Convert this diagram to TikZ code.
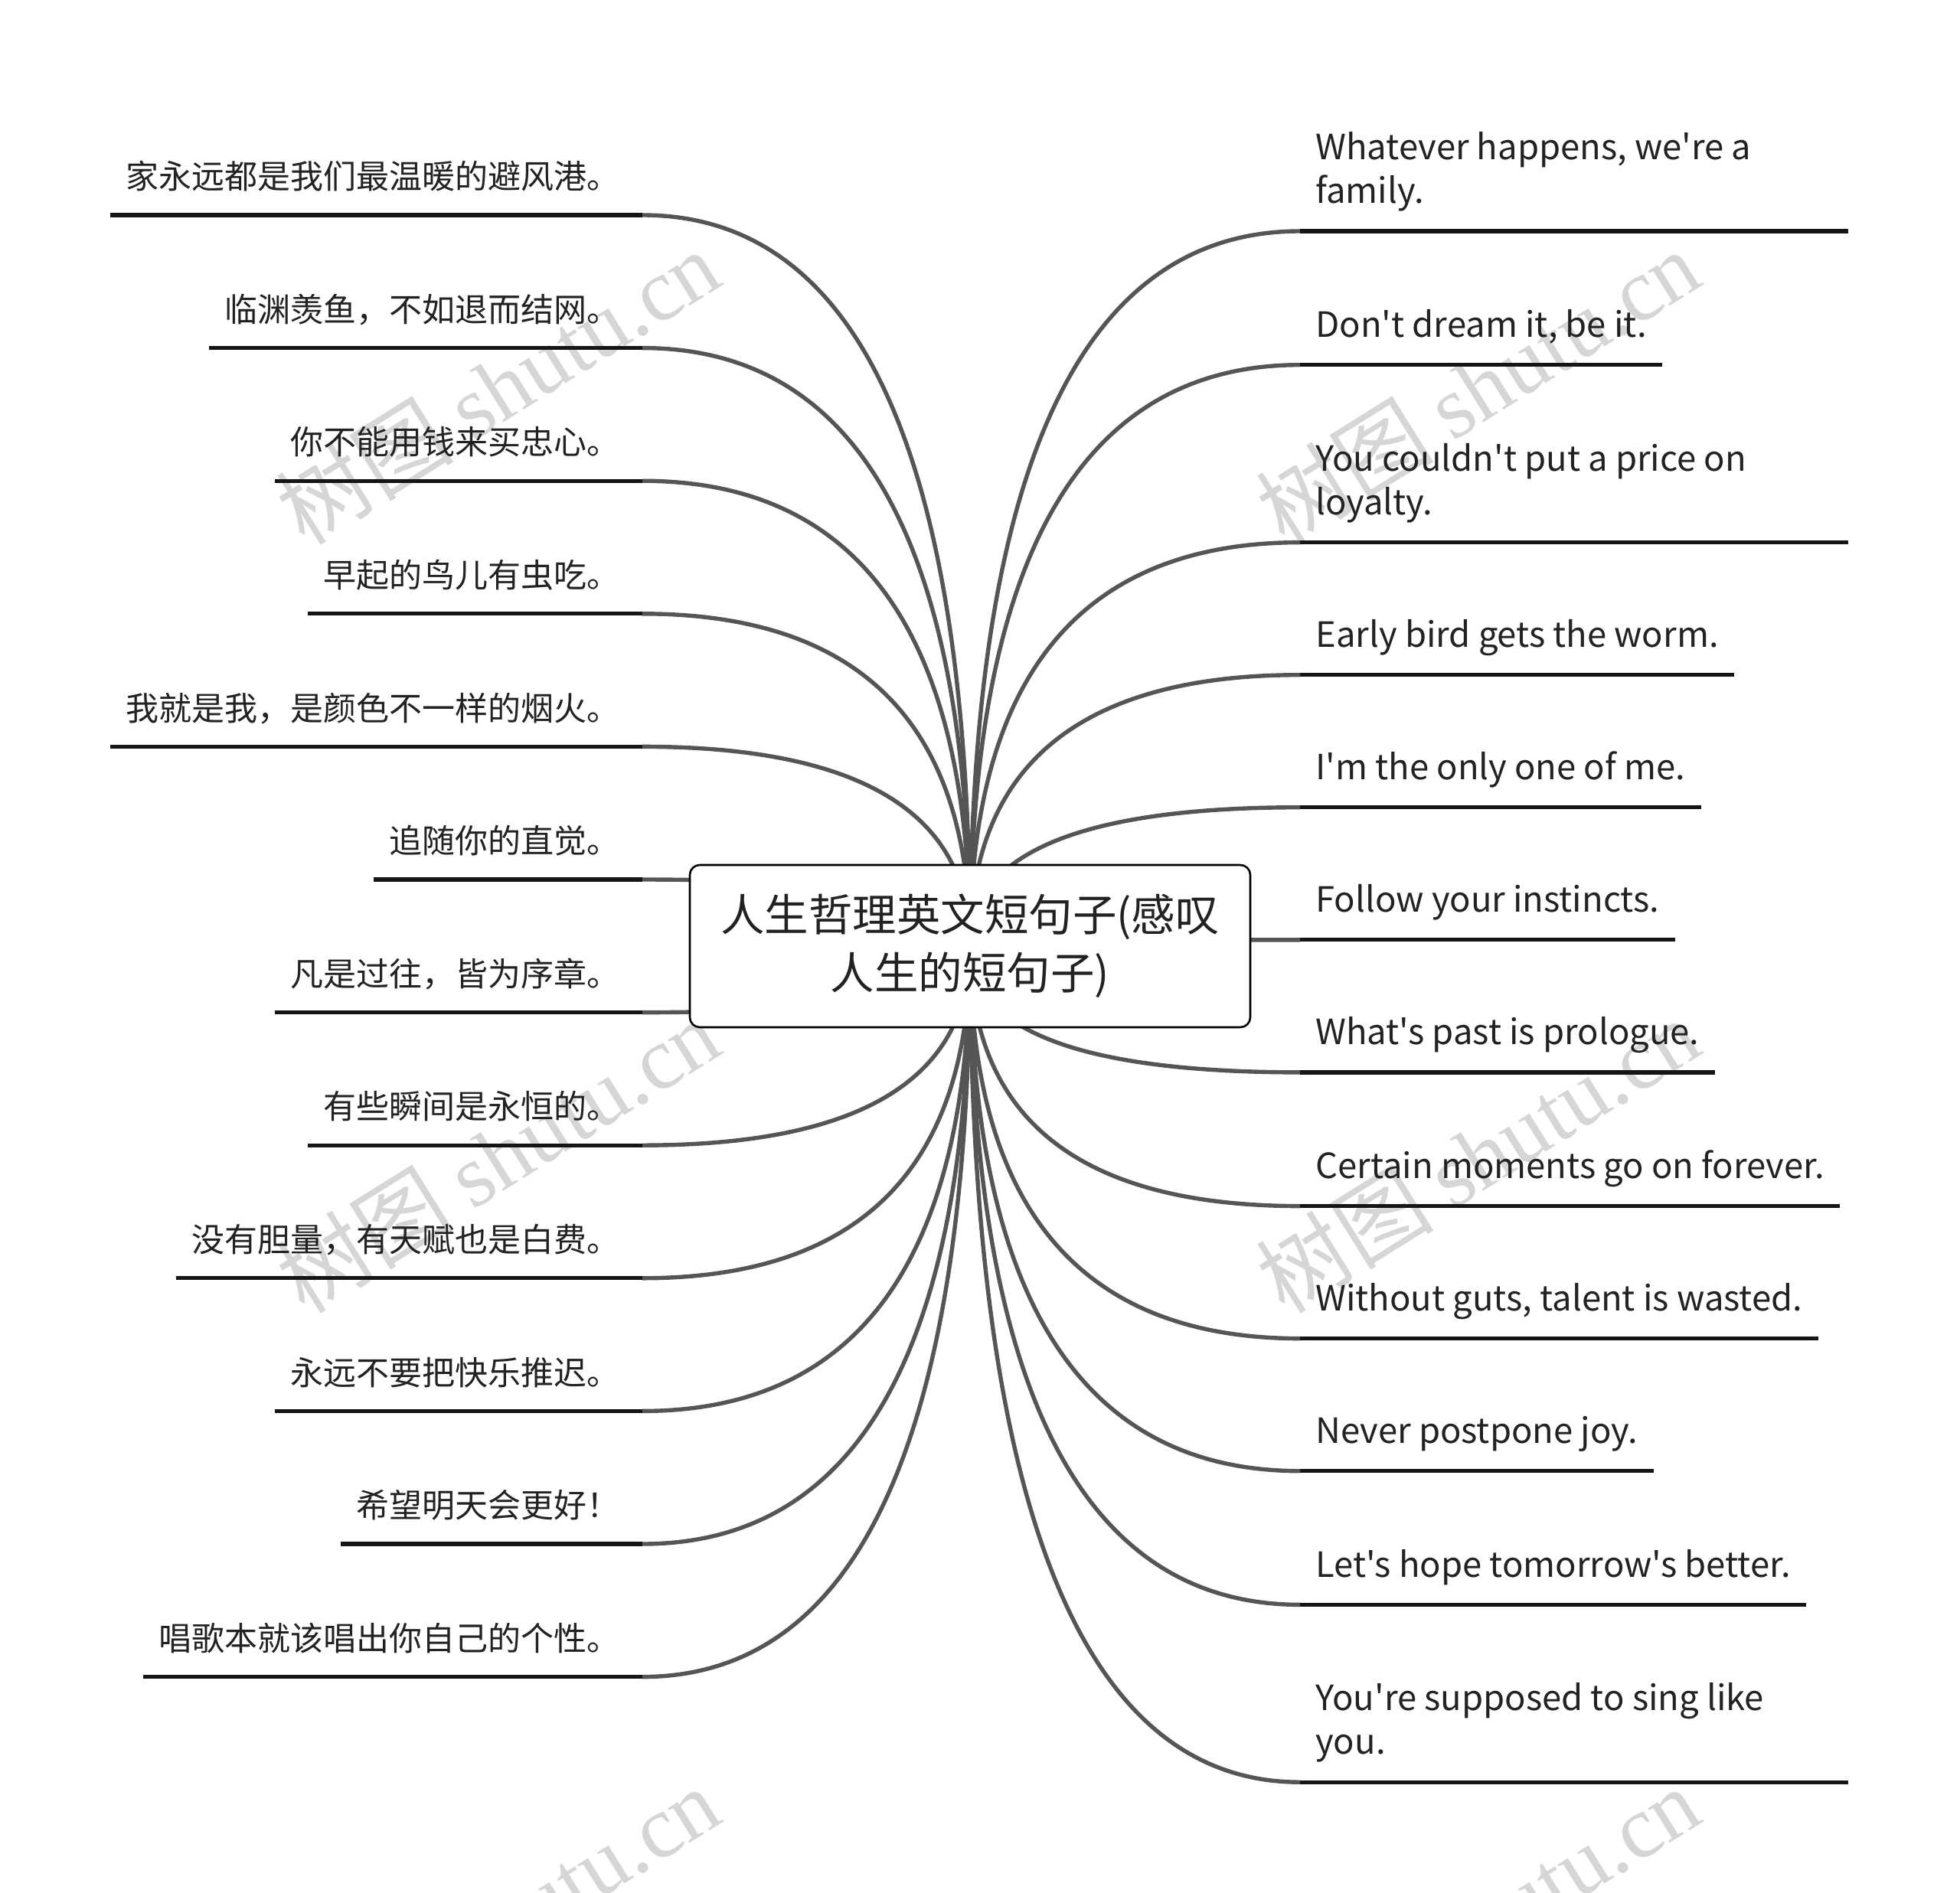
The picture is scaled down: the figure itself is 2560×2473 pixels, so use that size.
\documentclass[tikz,border=0pt]{standalone}
\usepackage{fontspec}
\setmainfont{Noto Sans CJK SC}[Ligatures=TeXOff]
\newfontfamily\wmfont{Liberation Serif}
\usetikzlibrary{calc,backgrounds}
\definecolor{curvegray}{HTML}{555555}
\definecolor{lineblack}{HTML}{151515}
\definecolor{textcol}{HTML}{222222}
\definecolor{wmgray}{HTML}{D6D6D6}
\tikzset{
  curve/.style={draw=curvegray, line width=2.7pt},
  uline/.style={draw=lineblack, line width=2.6pt},
  lnode/.style={anchor=south east, inner xsep=10pt, inner ysep=0pt, text depth=17pt,
    font=\fontsize{21.5pt}{26pt}\selectfont, text=textcol},
  rnode/.style={anchor=south west, inner xsep=10pt, inner ysep=0pt, text depth=18pt,
    font=\fontsize{22.7pt}{28.5pt}\selectfont, text=textcol},
  rootbox/.style={draw=black, line width=1.3pt, rounded corners=6.5pt, fill=white,
    minimum width=366pt, minimum height=106pt, align=center, inner sep=0pt,
    font=\fontsize{28.75pt}{38pt}\selectfont, text=textcol},
  wm/.style={text=wmgray, rotate=32, inner sep=0pt, font=\fontsize{58pt}{66pt}\selectfont}
}
\begin{document}
\begin{tikzpicture}[x=0.5pt,y=-0.5pt]
\useasboundingbox (0,0) rectangle (2560,2473);
\clip (0,0) rectangle (2560,2473);

% root
\node[rootbox] (root) at (1267,1236) {人生哲理英文短句子(感叹\\人生的短句子)};

% left branches
\node[lnode] (l1) at (839,281) {家永远都是我们最温暖的避风港。\kern4.5pt};
\node[lnode] (l2) at (839,454.6) {临渊羡鱼，不如退而结网。\kern4.5pt};
\node[lnode] (l3) at (839,628.2) {你不能用钱来买忠心。\kern4.5pt};
\node[lnode] (l4) at (839,801.8) {早起的鸟儿有虫吃。\kern4.5pt};
\node[lnode] (l5) at (839,975.4) {我就是我，是颜色不一样的烟火。\kern4.5pt};
\node[lnode] (l6) at (839,1149) {追随你的直觉。\kern4.5pt};
\node[lnode] (l7) at (839,1322.6) {凡是过往，皆为序章。\kern4.5pt};
\node[lnode] (l8) at (839,1496.2) {有些瞬间是永恒的。\kern4.5pt};
\node[lnode] (l9) at (839,1669.8) {没有胆量，有天赋也是白费。\kern4.5pt};
\node[lnode] (l10) at (839,1843.4) {永远不要把快乐推迟。\kern4.5pt};
\node[lnode] (l11) at (839,2017) {希望明天会更好！\kern4.5pt};
\node[lnode] (l12) at (839,2190.6) {唱歌本就该唱出你自己的个性。\kern4.5pt};

% right branches
\node[rnode] (r1) at (1698,302) {\parbox[b]{337.5pt}{Whatever happens, we're a\newline family.}};
\node[rnode] (r2) at (1698,476.7) {Don't dream it, be it.};
\node[rnode] (r3) at (1698,708.6) {\parbox[b]{337.5pt}{You couldn't put a price on\newline loyalty.}};
\node[rnode] (r4) at (1698,881.7) {Early bird gets the worm.};
\node[rnode] (r5) at (1698,1054.7) {I'm the only one of me.};
\node[rnode] (r6) at (1698,1227.8) {Follow your instincts.};
\node[rnode] (r7) at (1698,1400.9) {What's past is prologue.};
\node[rnode] (r8) at (1698,1575.6) {Certain moments go on forever.};
\node[rnode] (r9) at (1698,1748.6) {Without guts, talent is wasted.};
\node[rnode] (r10) at (1698,1921.7) {Never postpone joy.};
\node[rnode] (r11) at (1698,2096.4) {Let's hope tomorrow's better.};
\node[rnode] (r12) at (1698,2328.2) {\parbox[b]{337.5pt}{You're supposed to sing like\newline you.}};

% underlines
\foreach \i in {1,...,12} {
  \draw[uline] (l\i.south west) -- (l\i.south east);
  \draw[uline] (r\i.south west) -- (r\i.south east);
}

\begin{scope}[on background layer]
  % watermarks
  \foreach \p [count=\k] in {(650,505),(1930,505),(650,1509),(1930,1509),(650,2513),(1930,2513)}
    \node[wm] (wm\k) at \p {树图 {\wmfont shutu.cn}};
  % connectors
  \foreach \i in {1,...,12} {
    \draw[curve] (root.center) .. controls ($(root.center)!0.6667!(root.center |- l\i.south east)$)
      and ($(l\i.south east)!0.6667!(l\i.south east -| root.center)$) .. (l\i.south east);
    \draw[curve] (root.center) .. controls ($(root.center)!0.6667!(root.center |- r\i.south west)$)
      and ($(r\i.south west)!0.6667!(r\i.south west -| root.center)$) .. (r\i.south west);
  }
\end{scope}
\end{tikzpicture}
\end{document}
